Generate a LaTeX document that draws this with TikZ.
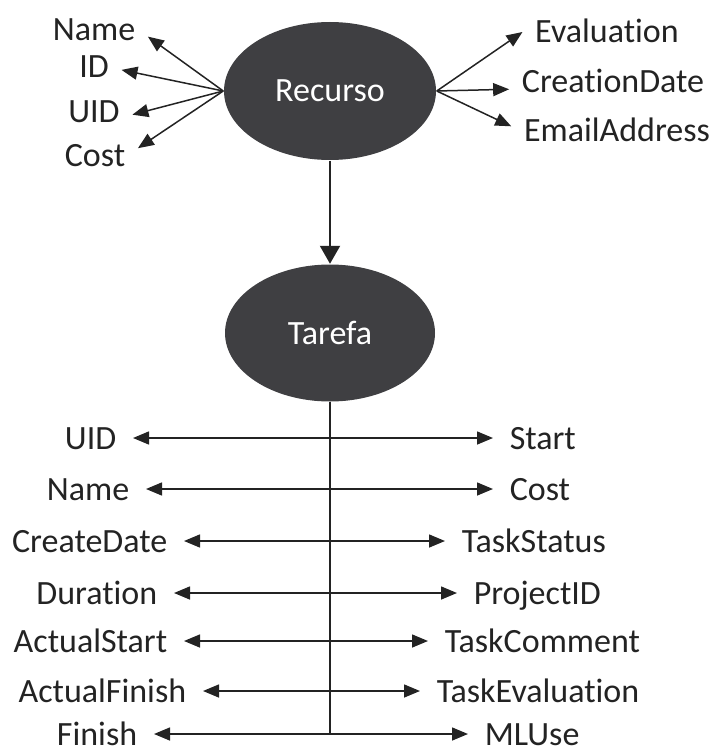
\documentclass[tikz,border=0pt]{standalone}
\usepackage{fontspec}
\setmainfont{Carlito}[Ligatures=CommonOff]
\usetikzlibrary{arrows.meta,shapes.geometric}

\definecolor{ovalgray}{RGB}{63,63,66}
\definecolor{inkgray}{RGB}{35,35,35}

\begin{document}
\begin{tikzpicture}[
    x=0.5pt, y=-0.5pt,
    color=inkgray,
    line width=0.75pt,
    font=\fontsize{17}{20}\selectfont,
    >={Triangle[length=8pt,width=6.5pt]},
    oval/.style={ellipse,fill=ovalgray,text=white,inner sep=0pt},
    attr/.style={text height=11pt,text depth=0pt,inner xsep=6pt,inner ysep=1pt},
    row/.style={attr,inner xsep=8pt},
    main/.style={line width=1.1pt,-{Triangle[length=9pt,width=10pt]}}
]
\useasboundingbox (0,0) rectangle (713,749);

% Recurso and its attributes
\node[oval,minimum width=106pt,minimum height=69pt] (rec) at (330,91) {Recurso};
\node[attr] (rName) at (94,30) {Name};
\node[attr] (rID) at (94,67) {ID};
\node[attr] (rUID) at (94,112) {UID};
\node[attr] (rCost) at (95,155) {Cost};
\node[attr] (rEval) at (607,32) {Evaluation};
\node[attr] (rCreation) at (613,82) {CreationDate};
\node[attr] (rEmail) at (617,130) {EmailAddress};

\draw[->] (rec.west) -- (rName.-7.5);
\draw[->] (rec.west) -- (rID.-6.5);
\draw[->] (rec.west) -- (rUID.-4.5);
\draw[->] (rec.west) -- (rCost.9.5);
\draw[->] (rec.east) -- (rEval.west);
\draw[->] (rec.east) -- (rCreation.184);
\draw[->] (rec.east) -- (rEmail.178);

% Tarefa
\node[oval,minimum width=105pt,minimum height=68.5pt] (tar) at (330,333) {Tarefa};
\draw[main] (rec.south) -- (tar.north);

\coordinate (trunk) at (330,734);
\draw (tar.south) -- (trunk);

% Tarefa attributes
\node[row,anchor=east] (tUID) at (133,438) {UID};
\node[row,anchor=west] (tStart) at (493,438) {Start};
\node[row,anchor=east] (tName) at (146,489) {Name};
\node[row,anchor=west] (tCost) at (493,489) {Cost};
\node[row,anchor=east] (tCreate) at (184,541) {CreateDate};
\node[row,anchor=west] (tStatus) at (445,541) {TaskStatus};
\node[row,anchor=east] (tDuration) at (174,593) {Duration};
\node[row,anchor=west] (tProject) at (457,593) {ProjectID};
\node[row,anchor=east] (tActStart) at (184,641) {ActualStart};
\node[row,anchor=west] (tComment) at (428,641) {TaskComment};
\node[row,anchor=east] (tActFinish) at (203,691) {ActualFinish};
\node[row,anchor=west] (tEval) at (420,691) {TaskEvaluation};
\node[row,anchor=east] (tFinish) at (154,734) {Finish};
\node[row,anchor=west] (tML) at (468,734) {MLUse};

\draw[<->] (tUID.east) -- (tStart.west);
\draw[<->] (tName.east) -- (tCost.west);
\draw[<->] (tCreate.east) -- (tStatus.west);
\draw[<->] (tDuration.east) -- (tProject.west);
\draw[<->] (tActStart.east) -- (tComment.west);
\draw[<->] (tActFinish.east) -- (tEval.west);
\draw[<->] (tFinish.east) -- (tML.west);

\end{tikzpicture}
\end{document}
